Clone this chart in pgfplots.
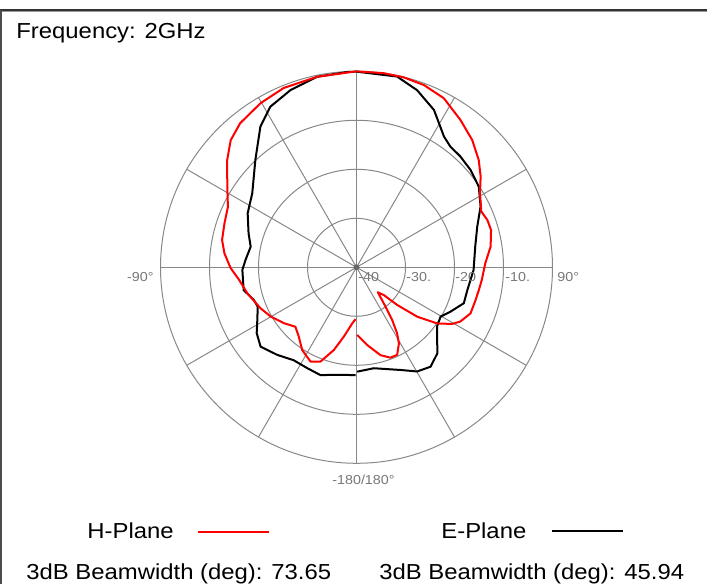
\documentclass[border=0pt]{standalone}
\usepackage{pgfplots}
\usepackage{pgfplotstable}
\pgfplotsset{compat=1.18}
\usepackage{fontspec}
\setmainfont{Liberation Sans}[FakeStretch=1.1]
\definecolor{gridgray}{HTML}{888888}
\definecolor{labgray}{HTML}{777777}

\pgfplotstableread{
ang db
-178.9 -29.4
-175.6 -28.5
-169.6 -25.6
-164.7 -22.5
-159.1 -19.4
-154.0 -18.6
-146.7 -19.8
-140.2 -21.6
-134.2 -22.6
-127.6 -21.3
-119.8 -19.8
-113.1 -18.7
-103.4 -17.1
-96.1 -15.9
-90.3 -14.3
-84.0 -12.9
-78.5 -12.0
-71.6 -11.6
-64.8 -11.0
-58.0 -8.9
-50.3 -5.7
-44.7 -3.5
-38.9 -2.2
-30.3 -1.2
-22.1 -0.5
-11.7 -0.3
0 0
8.0 0
13.9 -0.05
20.3 -0.34
27.3 -1.16
35.2 -3.2
42.3 -4.9
48.7 -6.8
53.8 -8.6
59.0 -10.6
65.9 -12.1
70.1 -11.6
74.5 -11.5
81.2 -12.3
88.2 -13.7
95.8 -14.3
100.5 -14.6
105.4 -14.8
112.0 -14.9
117.6 -16.1
120.6 -17.3
124.8 -19.9
129.1 -24.0
132.8 -28.7
135.4 -32.0
139.5 -33.3
143.6 -30.0
145.9 -27.0
148.4 -24.2
150.9 -22.2
155.1 -20.3
159.4 -20.3
164.7 -21.4
172.2 -24.0
179.4 -26.2
}\hplane

\pgfplotstableread{
ang db
-179.5 -18.0
-169.8 -17.7
-161.5 -16.8
-153.9 -17.1
-145.9 -17.1
-137.9 -15.9
-129.6 -14.6
-123.4 -15.6
-117.9 -17.1
-111.7 -18.3
-107.6 -18.0
-101.4 -16.5
-91.3 -16.7
-86.2 -17.3
-79.0 -18.0
-72.5 -16.9
-63.6 -15.2
-54.6 -13.9
-43.3 -9.9
-34.3 -5.2
-28.2 -2.8
-20.4 -1.4
-11.7 -0.3
-2.7 -0.1
0 -0.07
12.0 -0.2
18.9 -1.8
26.2 -4.2
30.8 -6.6
33.8 -7.9
37.9 -8.8
43.2 -9.0
49.5 -9.4
56.6 -10.1
63.9 -11.8
71.4 -14.0
80.1 -15.4
91.3 -16.1
101.6 -16.9
108.5 -16.9
115.3 -18.8
120.4 -20.1
126.3 -19.6
136.8 -15.9
143.3 -14.7
149.8 -15.4
156.8 -17.2
170.3 -19.1
179.6 -18.7
}\eplane

\begin{document}
\begin{tikzpicture}[x=0.5pt,y=0.5pt]
\path[use as bounding box] (0,0) rectangle (707,584);
% frame
\draw[black!80, line width=1pt] (0,574) -- (707,574);
\draw[black!40, line width=0.5pt] (0,572.6) -- (707,572.6);
\draw[black!70, line width=1pt] (1,0) -- (1,574);

\begin{axis}[at={(178.25pt,158.35pt)}, anchor=center,
  x=2.45pt, y=2.45pt, xmin=-40, xmax=40, ymin=-40, ymax=40,
  hide axis, clip=false]
  \foreach \r in {10,20,30,40}{
    \edef\tmp{\noexpand\draw[gridgray, line width=0.5pt] (axis cs:0,0) circle[radius=\r];}\tmp
  }
  \pgfplotsinvokeforeach{0,30,60,90,120,150}{
    \draw[gridgray, line width=0.5pt] (axis cs:{40*sin(#1)},{40*cos(#1)}) -- (axis cs:{-40*sin(#1)},{-40*cos(#1)});
  }
  \fill[black!60] (axis cs:0,0) circle[radius=0.6];
  \addplot[black, line width=1pt, line join=round, no markers]
    table[x expr={(\thisrow{db}+40)*sin(\thisrow{ang})}, y expr={(\thisrow{db}+40)*cos(\thisrow{ang})}] {\eplane};
  \addplot[red, line width=1pt, line join=round, no markers]
    table[x expr={(\thisrow{db}+40)*sin(\thisrow{ang})}, y expr={(\thisrow{db}+40)*cos(\thisrow{ang})}] {\hplane};
\end{axis}

% radial / angle labels
\begin{scope}[every node/.style={inner sep=0pt, text=labgray, font=\fontsize{6.5}{7}\selectfont}]
\node[anchor=base west] at (358,302) {-40};
\node[anchor=base west] at (406,302) {-30.};
\node[anchor=base west] at (455,302) {-20};
\node[anchor=base west] at (505,302) {-10.};
\node[anchor=base west] at (557,302) {90°};
\node[anchor=base east] at (154,302) {-90°};
\node[anchor=base west] at (332,99) {-180/180°};
\end{scope}

% texts
\begin{scope}[every node/.style={inner sep=0pt, font=\fontsize{10.85}{13}\selectfont}]
\node[anchor=base west] at (16,545) {Frequency: 2GHz};
\node[anchor=base west] at (87,46) {H-Plane};
\node[anchor=base west] at (441,46) {E-Plane};
\node[anchor=base west] at (26,4) {3dB Beamwidth (deg): 73.65};
\node[anchor=base west] at (379,4) {3dB Beamwidth (deg): 45.94};
\end{scope}
\draw[red, line width=1pt] (198,52.5) -- (269,52.5);
\draw[black, line width=1pt] (552,53) -- (623,53);
\end{tikzpicture}
\end{document}
